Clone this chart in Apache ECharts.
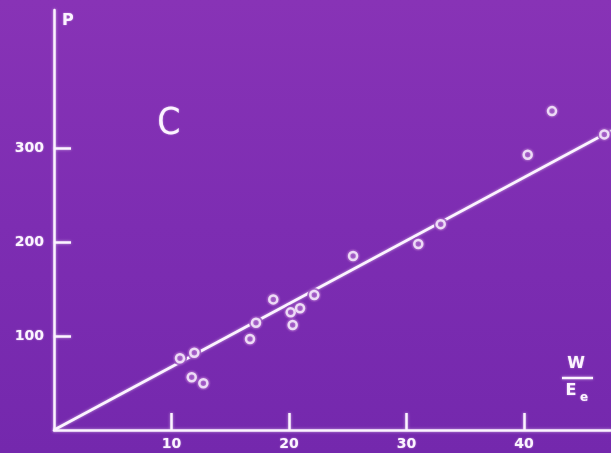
<!DOCTYPE html>
<html>
<head>
<meta charset="utf-8">
<script src="https://cdn.jsdelivr.net/npm/echarts@6/dist/echarts.min.js"></script>
<style>
  html, body { margin: 0; padding: 0; background: #7d2db0; }
  #chart { width: 611px; height: 453px; }
</style>
</head>
<body>
<div id="chart"></div>
<script>
// Measured points: W/Ee against P
const ratioW = [10.72, 11.94, 11.72, 12.71, 16.68, 17.19, 18.66, 20.14, 20.31, 20.94, 22.15, 25.45, 31.00, 32.91, 40.31, 42.38, 46.83];
const powerP = [76.3, 82.2, 56.1, 49.7, 96.8, 114.1, 139.0, 125.2, 111.7, 129.5, 143.6, 185.1, 197.9, 219.1, 292.9, 339.4, 314.6];

// Fitted straight line through the origin (end points)
const fitW = [0, 47.4];
const fitP = [0, 318.5];

// Tick values
const xTicks = [10, 20, 30, 40];
const yTicks = [100, 200, 300];

const WHITE = '#fbf4ff';
const FONT = 'DejaVu Sans';

// Slide background, slightly lighter toward the top
const bg = {
  type: 'linear', x: 0, y: 0, x2: 0, y2: 453, global: true,
  colorStops: [
    { offset: 0, color: '#8833b6' },
    { offset: 0.5, color: '#7d2db2' },
    { offset: 1, color: '#7428ad' }
  ]
};

const glow = { shadowBlur: 3, shadowColor: 'rgba(255,240,255,0.6)' };
const textGlow = { textShadowBlur: 2, textShadowColor: 'rgba(255,240,255,0.5)' };

const points = ratioW.map((w, i) => [w, powerP[i]]);
const fitLine = fitW.map((w, i) => [w, fitP[i]]);

const chart = echarts.init(document.getElementById('chart'));
chart.setOption({
  backgroundColor: bg,
  animation: false,
  grid: { left: 54, right: 0, top: 10, bottom: 23 },
  xAxis: {
    type: 'value', min: 0, max: 47.4,
    splitLine: { show: false },
    axisLine: { lineStyle: Object.assign({ color: WHITE, width: 2.5 }, glow) },
    axisTick: { customValues: xTicks, inside: true, length: 17, lineStyle: Object.assign({ color: WHITE, width: 2.5 }, glow) },
    axisLabel: Object.assign({ customValues: xTicks, color: WHITE, fontFamily: FONT, fontWeight: 'bold', fontSize: 14, margin: 7 }, textGlow)
  },
  yAxis: {
    type: 'value', min: 0, max: 447,
    splitLine: { show: false },
    axisLine: { lineStyle: Object.assign({ color: WHITE, width: 2.5 }, glow) },
    axisTick: { customValues: yTicks, inside: true, length: 17, lineStyle: Object.assign({ color: WHITE, width: 2.5 }, glow) },
    axisLabel: Object.assign({ customValues: yTicks, color: WHITE, fontFamily: FONT, fontWeight: 'bold', fontSize: 14, margin: 10, padding: [3, 0, 0, 0] }, textGlow)
  },
  series: [
    {
      type: 'line', data: fitLine, symbol: 'none', silent: true, z: 2,
      lineStyle: Object.assign({ color: WHITE, width: 2.8 }, glow)
    },
    {
      // clears the fitted line around each circle
      type: 'scatter', data: points, symbol: 'circle', symbolSize: 14, silent: true, z: 3,
      itemStyle: { color: bg }
    },
    {
      type: 'scatter', data: points, symbol: 'circle', symbolSize: 8, z: 4,
      itemStyle: Object.assign({ color: bg, borderColor: WHITE, borderWidth: 2.5 }, glow)
    }
  ],
  graphic: [
    { type: 'text', left: 62, top: 13, style: Object.assign({ text: 'P', fill: WHITE, font: 'bold 16px "DejaVu Sans"' }, textGlow) },
    { type: 'text', x: 169, y: 124, style: Object.assign({ text: 'C', fill: WHITE, font: '37px "DejaVu Sans Condensed", "DejaVu Sans"',
      align: 'center', verticalAlign: 'middle' }, textGlow) },
    { type: 'text', x: 576, y: 364, style: Object.assign({ text: 'W', fill: WHITE, font: 'bold 16px "DejaVu Sans"',
      align: 'center', verticalAlign: 'middle' }, textGlow) },
    { type: 'line', shape: { x1: 562, y1: 378, x2: 593, y2: 378 },
      style: Object.assign({ stroke: WHITE, lineWidth: 2.4 }, glow) },
    { type: 'text', x: 571, y: 391, style: Object.assign({ text: 'E', fill: WHITE, font: 'bold 16px "DejaVu Sans"',
      align: 'center', verticalAlign: 'middle' }, textGlow) },
    { type: 'text', x: 584, y: 398, style: Object.assign({ text: 'e', fill: WHITE, font: 'bold 12px "DejaVu Sans"',
      align: 'center', verticalAlign: 'middle' }, textGlow) }
  ]
});
</script>
</body>
</html>
